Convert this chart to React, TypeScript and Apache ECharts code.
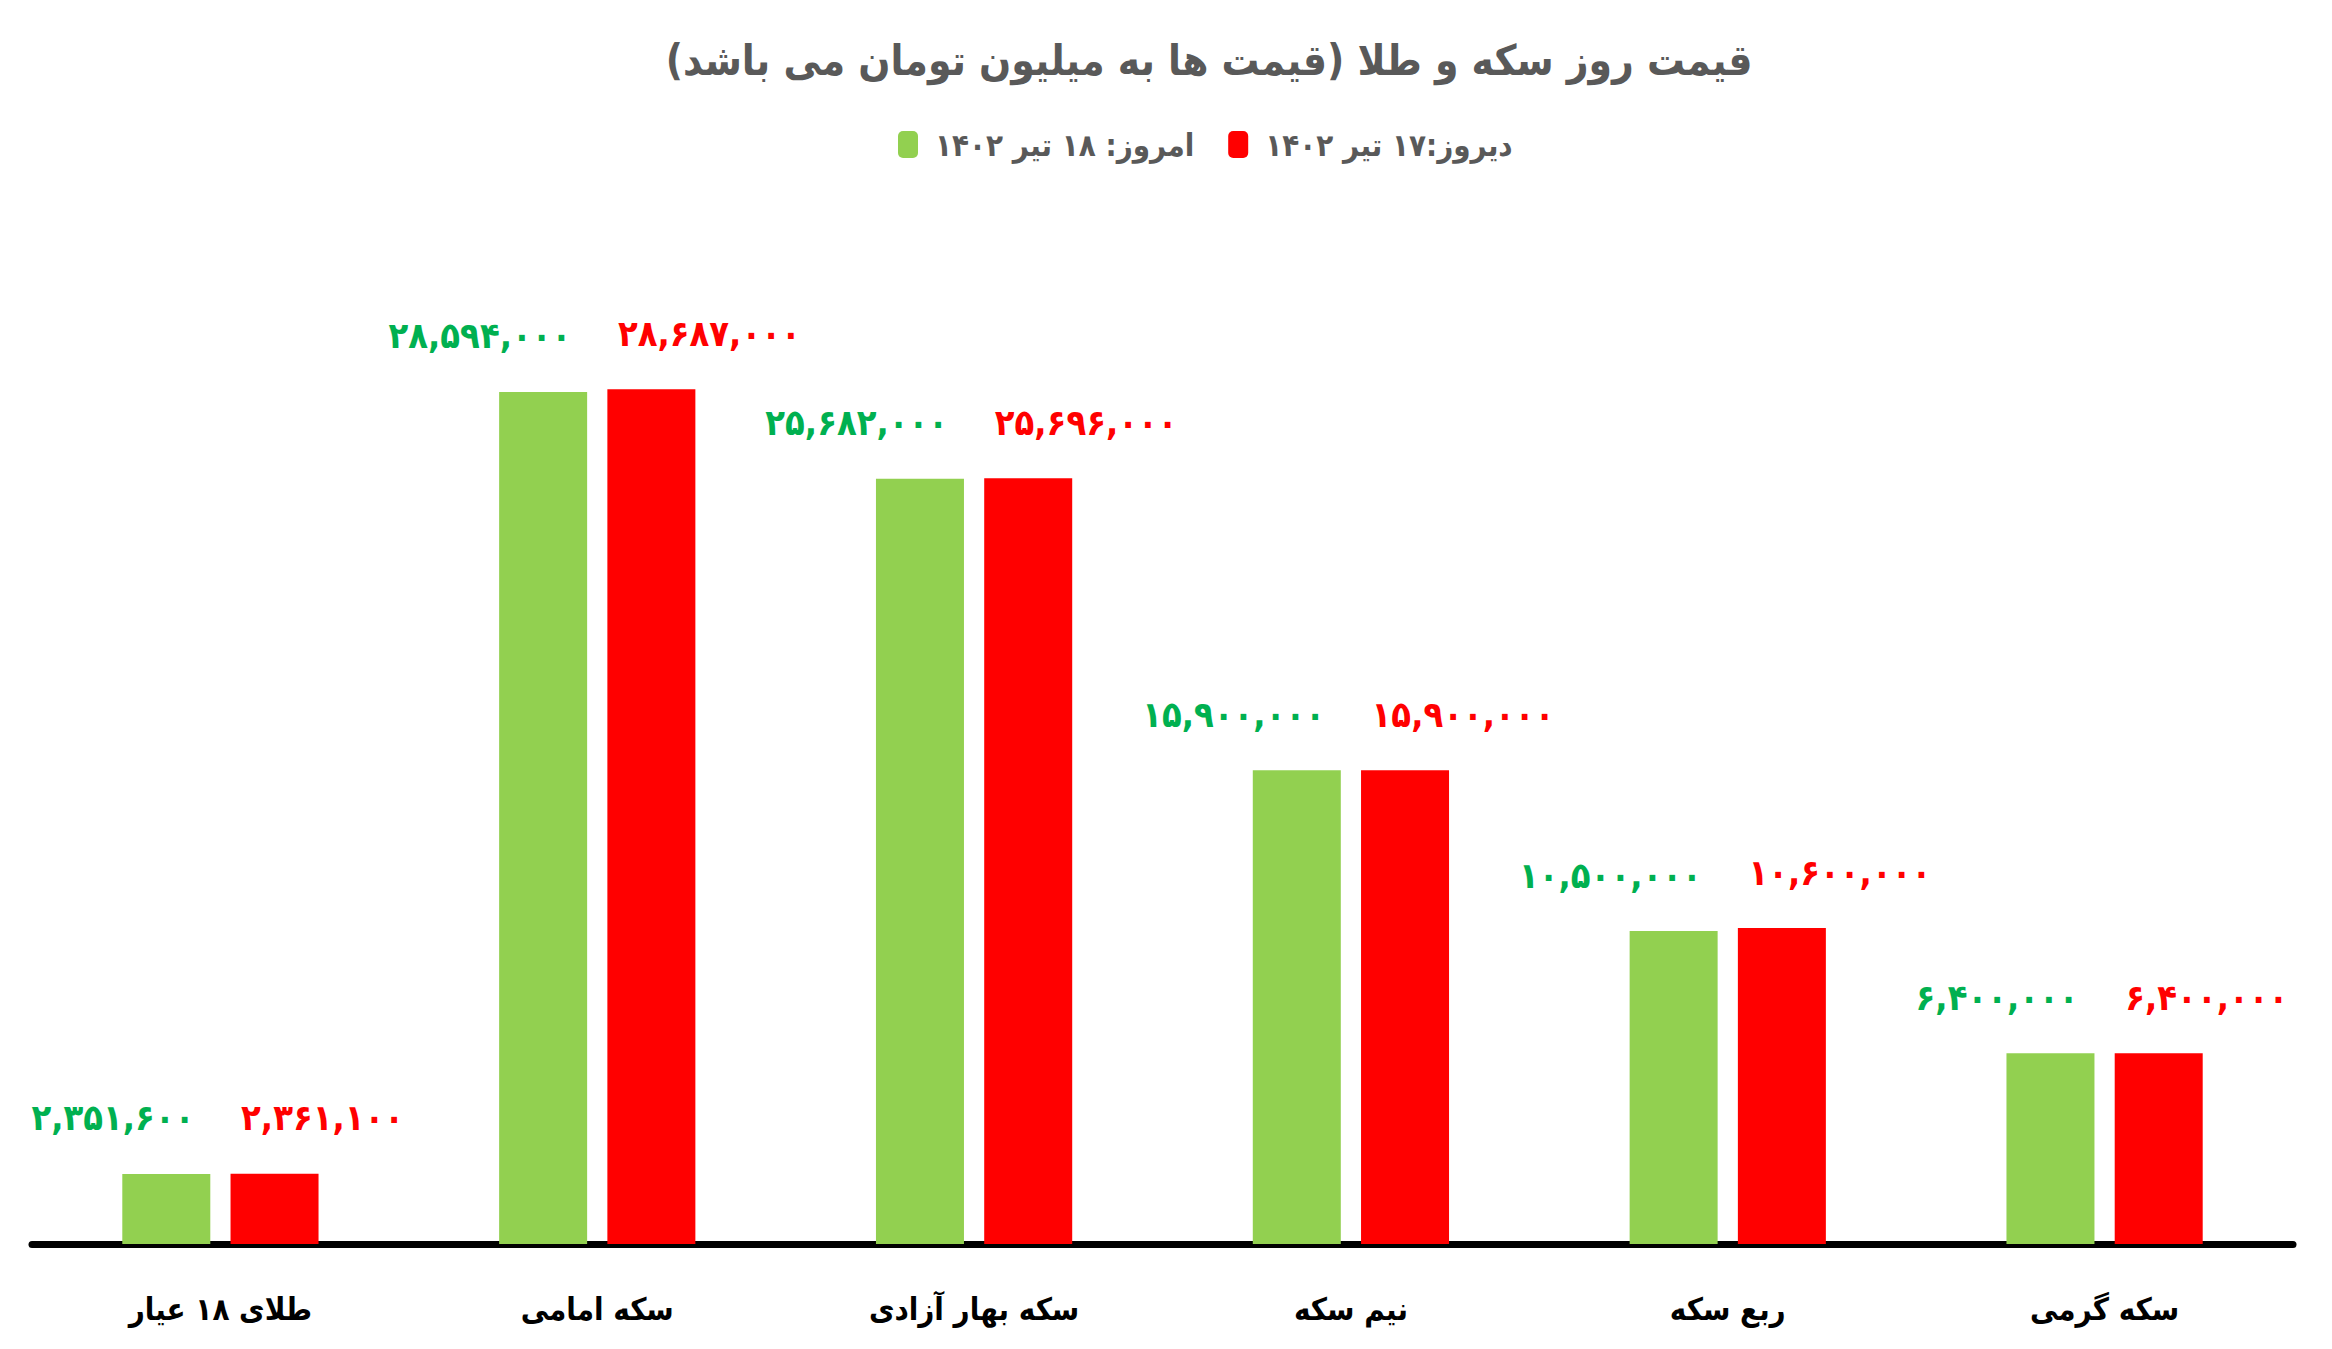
import React, { useEffect, useRef } from "react";
import * as echarts from "echarts";

const categories = ["طلای ۱۸ عیار", "سکه امامی", "سکه بهار آزادی", "نیم سکه", "ربع سکه", "سکه گرمی"];
const todayName = "امروز: ۱۸ تیر ۱۴۰۲";
const yesterdayName = "دیروز:۱۷ تیر ۱۴۰۲";
const todayValues = [2351600, 28594000, 25682000, 15900000, 10500000, 6400000];
const yesterdayValues = [2361100, 28687000, 25696000, 15900000, 10600000, 6400000];
const titleText = "قیمت روز سکه و طلا (قیمت ها به میلیون تومان می باشد)";

const FONT = "'DejaVu Sans Condensed', 'DejaVu Sans', sans-serif";
const fa = "۰۱۲۳۴۵۶۷۸۹";
const toFa = (n: number) =>
  n.toLocaleString("en-US").replace(/\d/g, (d) => fa[Number(d)]);

export default function App() {
  const ref = useRef<HTMLDivElement>(null);
  useEffect(() => {
    if (!ref.current) return;
    const chart = echarts.init(ref.current, undefined, { renderer: "svg" });
    chart.setOption({
      animation: false,
      backgroundColor: "#ffffff",
      textStyle: { fontFamily: FONT },
      title: {
        text: titleText,
        left: 1204,
        textAlign: "center",
        top: 34,
        textStyle: { fontFamily: FONT, fontWeight: "bold", fontSize: 42, color: "#595959" },
      },
      legend: {
        left: 893,
        top: 124,
        itemWidth: 20,
        itemHeight: 27,
        itemGap: 34,
        data: [todayName, yesterdayName],
        textStyle: {
          fontFamily: FONT,
          fontWeight: "bold",
          fontSize: 31,
          color: "#595959",
          padding: [0, 0, 0, 12],
        },
      },
      grid: { left: 32, right: 39, top: 350, bottom: 105, containLabel: false },
      xAxis: {
        type: "category",
        data: categories,
        axisLine: { lineStyle: { color: "#000000", width: 7 } },
        axisTick: { show: false },
        axisLabel: {
          margin: 49,
          fontFamily: FONT,
          fontWeight: "bold",
          fontSize: 31,
          color: "#000000",
        },
      },
      yAxis: {
        type: "value",
        min: 0,
        max: 30000000,
        show: false,
        splitLine: { show: false },
      },
      series: [
        {
          name: todayName,
          type: "bar",
          data: todayValues,
          barWidth: 88,
          barGap: "23%",
          itemStyle: { color: "#92D050" },
          label: {
            show: true,
            position: ["82%", -38],
            align: "right",
            verticalAlign: "bottom",
            formatter: (p: any) => toFa(p.value),
            fontFamily: FONT,
            fontWeight: "bold",
            fontSize: 36,
            color: "#00B050",
          },
        },
        {
          name: yesterdayName,
          type: "bar",
          data: yesterdayValues,
          barWidth: 88,
          itemStyle: { color: "#FF0000" },
          label: {
            show: true,
            position: ["12%", -38],
            align: "left",
            verticalAlign: "bottom",
            formatter: (p: any) => toFa(p.value),
            fontFamily: FONT,
            fontWeight: "bold",
            fontSize: 36,
            color: "#FF0000",
          },
        },
      ],
    });
    return () => chart.dispose();
  }, []);
  return (
    <div
      ref={ref}
      style={{ position: "fixed", left: 0, top: 0, width: "2332px", height: "1349px" }}
    />
  );
}
